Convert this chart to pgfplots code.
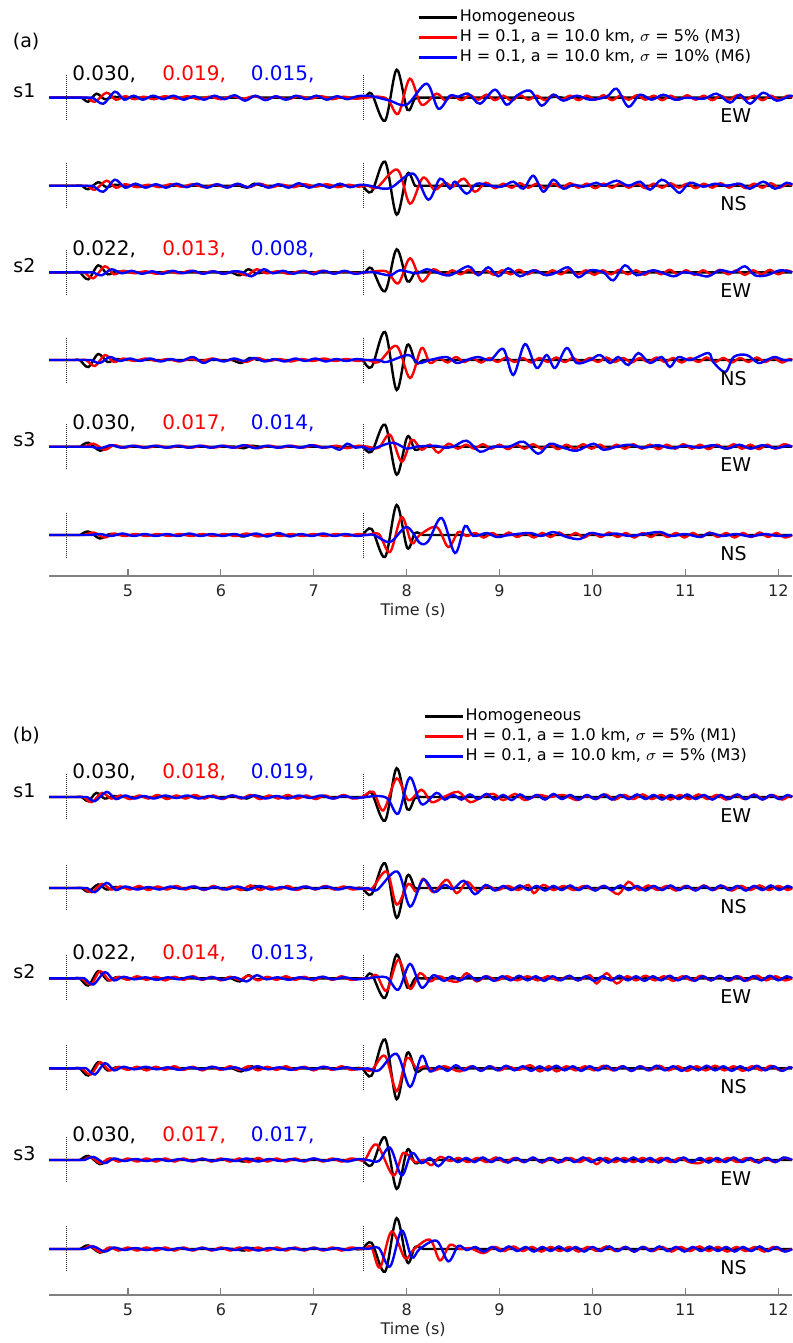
\documentclass[border=0pt]{standalone}
\usepackage{fontspec}
\setmainfont{DejaVu Sans}
\usepackage{pgfplots}
\usepackage{pgfplotstable}
\pgfplotsset{compat=1.18}

% ---- black: homogeneous (same in both panels)
\pgfplotstableread[row sep=\\]{t a\\4.15 0\\4.35 0\\4.44 0\\4.50 0\\4.573 -4\\4.66 4\\4.75 -1.5\\4.84 1\\4.92 0\\4.98 0\\5.07 0\\5.22 0\\5.52 0\\5.80 0\\5.95 0\\6.05 0\\6.14 0\\6.20 0\\6.28 -1.5\\6.36 1.5\\6.44 0\\6.50 0\\6.59 0\\6.74 0\\7.04 0\\7.26 0\\7.40 0\\7.49 0\\7.55 0\\7.623 4\\7.767 -23\\7.892 28\\8.007 -12\\8.09 -1\\8.17 0\\8.24 0\\8.33 0\\8.48 0\\8.78 0\\9.08 0\\9.30 0\\9.44 0\\9.53 0\\9.60 1\\9.68 0\\9.75 0\\9.84 0\\9.99 0\\10.29 0\\10.90 0\\12.15 0\\}\kA
\pgfplotstableread[row sep=\\]{t a\\4.15 0\\4.35 0\\4.44 0\\4.50 0\\4.573 -3.5\\4.68 3.5\\4.77 -1.5\\4.86 1\\4.93 0\\4.99 0\\5.08 0\\5.23 0\\5.53 0\\5.80 0\\5.95 0\\6.05 0\\6.14 0\\6.20 0\\6.28 -2\\6.36 2\\6.44 0\\6.50 0\\6.59 0\\6.74 0\\7.04 0\\7.22 0\\7.37 0\\7.46 0\\7.52 0\\7.623 -6\\7.767 24\\7.892 -29\\8.007 12\\8.09 0\\8.15 0\\8.24 0\\8.39 0\\8.69 0\\9.30 0\\12.15 0\\}\kB
\pgfplotstableread[row sep=\\]{t a\\4.15 0\\4.33 0\\4.42 0\\4.48 0\\4.573 -7\\4.68 7\\4.78 -2\\4.87 1\\4.95 0\\5.01 0\\5.10 0\\5.25 0\\5.55 0\\5.75 0\\5.90 0\\5.99 0\\6.05 0\\6.11 0\\6.205 -3\\6.295 3\\6.38 -1\\6.46 0\\6.52 0\\6.61 0\\6.76 0\\7.06 0\\7.25 0\\7.40 0\\7.49 0\\7.55 0\\7.623 4\\7.767 -19\\7.892 23\\8.007 -9\\8.09 0\\8.15 0\\8.24 0\\8.39 0\\8.69 0\\9.30 0\\12.15 0\\}\kC
\pgfplotstableread[row sep=\\]{t a\\4.15 0\\4.33 0\\4.42 0\\4.48 0\\4.573 -7\\4.68 6\\4.78 -2\\4.87 1\\4.95 0\\5.01 0\\5.10 0\\5.25 0\\5.55 0\\5.75 0\\5.90 0\\5.99 0\\6.06 0\\6.12 0\\6.22 -3\\6.31 2\\6.40 0\\6.46 0\\6.55 0\\6.70 0\\7.00 0\\7.20 0\\7.35 0\\7.44 0\\7.52 0\\7.623 -7\\7.767 28\\7.892 -30\\8.007 15\\8.10 -3\\8.18 0\\8.24 0\\8.33 0\\8.48 0\\8.78 0\\9.40 0\\12.15 0\\}\kD
\pgfplotstableread[row sep=\\]{t a\\4.15 0\\4.33 0\\4.42 0\\4.48 0\\4.573 4\\4.698 -4\\4.80 1\\4.90 0\\4.96 0\\5.05 0\\5.20 0\\5.50 0\\5.75 0\\5.90 0\\5.99 0\\6.05 0\\6.15 0\\6.25 -1.5\\6.33 1\\6.42 0\\6.48 0\\6.57 0\\6.72 0\\7.02 0\\7.20 0\\7.35 0\\7.44 0\\7.52 0\\7.623 -5\\7.767 22\\7.892 -28\\8.007 10\\8.09 -3\\8.18 0\\8.24 0\\8.33 0\\8.48 0\\8.78 0\\9.40 0\\12.15 0\\}\kE
\pgfplotstableread[row sep=\\]{t a\\4.15 0\\4.33 0\\4.42 0\\4.48 0\\4.573 3.5\\4.698 -3.5\\4.80 1\\4.90 0\\4.96 0\\5.05 0\\5.20 0\\5.50 0\\5.75 0\\5.90 0\\5.99 0\\6.05 0\\6.15 0\\6.25 -1.5\\6.33 1\\6.42 0\\6.48 0\\6.57 0\\6.72 0\\7.02 0\\7.20 0\\7.35 0\\7.44 0\\7.52 0\\7.623 6\\7.767 -22\\7.892 30\\8.007 -13\\8.09 2\\8.18 0\\8.24 0\\8.33 0\\8.48 0\\8.78 0\\9.40 0\\12.15 0\\}\kF

% ---- M3 (red in a, blue in b)
\pgfplotstableread[row sep=\\]{t a\\4.15 0\\4.26 0\\4.41 0\\4.50 0\\4.56 0\\4.645 -4\\4.77 5\\4.87 -2\\4.97 1.5\\5.07 -1.5\\5.17 1\\5.28 -1.5\\5.40 1.5\\5.52 -1\\5.64 1.5\\5.76 -1.5\\5.88 1\\6.00 -1.5\\6.12 1.5\\6.24 -1\\6.36 1.5\\6.48 -1.5\\6.60 1\\6.72 -1.5\\6.84 1.5\\6.96 -1\\7.08 1.5\\7.20 -1.5\\7.32 1\\7.44 -1\\7.56 0\\7.70 1\\7.80 -2\\7.910 -16\\8.034 19\\8.161 -7\\8.32 4\\8.41 -2.5\\8.50 2\\8.59 -2.5\\8.68 2.5\\8.77 -2\\8.86 3\\8.95 -2.5\\9.04 2\\9.13 -3\\9.22 2.5\\9.31 -2\\9.40 2\\9.49 -2.5\\9.58 3\\9.67 -2\\9.76 2\\9.85 -2.5\\9.94 2\\10.03 -2\\10.12 2.5\\10.21 -2.5\\10.30 2\\10.39 -2\\10.48 2.5\\10.57 -2\\10.66 2\\10.75 -2.5\\10.84 2\\10.93 -2\\11.02 2.5\\11.11 -2\\11.20 2\\11.29 -2.5\\11.38 2\\11.47 -2\\11.56 2.5\\11.65 -2\\11.74 2\\11.83 -2.5\\11.92 2\\12.01 -2\\12.10 2\\12.15 0\\}\rA
\pgfplotstableread[row sep=\\]{t a\\4.15 0\\4.26 0\\4.41 0\\4.50 0\\4.56 0\\4.645 -4\\4.77 5\\4.87 -2\\4.97 1.5\\5.10 -1.5\\5.22 1\\5.34 -1.5\\5.46 1.5\\5.58 -1\\5.70 1.5\\5.82 -1.5\\5.94 1\\6.06 -1.5\\6.18 1.5\\6.30 -1.5\\6.42 2\\6.54 -1.5\\6.66 1\\6.78 -1.5\\6.90 1.5\\7.02 -1\\7.14 1.5\\7.26 -1.5\\7.38 1\\7.48 -1\\7.58 0\\7.68 -2\\7.900 16\\8.036 -18\\8.175 8\\8.30 -4\\8.41 3\\8.50 -1\\8.615 7\\8.735 -6\\8.85 3\\8.95 -2.5\\9.04 2\\9.13 -2\\9.22 2.5\\9.31 -2\\9.40 2\\9.49 -2.5\\9.58 2\\9.67 -2\\9.76 2.5\\9.85 -2\\9.94 2\\10.03 -2.5\\10.12 2\\10.21 -2\\10.30 2.5\\10.39 -2\\10.48 2\\10.57 -2.5\\10.66 2\\10.75 -2\\10.84 2.5\\10.93 -2\\11.02 2\\11.11 -2.5\\11.20 2\\11.29 -2\\11.38 2.5\\11.47 -2\\11.56 2\\11.65 -2.5\\11.74 2\\11.83 -2\\11.92 2.5\\12.01 -2\\12.10 2\\12.15 0\\}\rB
\pgfplotstableread[row sep=\\]{t a\\4.15 0\\4.23 0\\4.38 0\\4.47 0\\4.53 0\\4.627 -6\\4.752 6\\4.85 -2\\4.95 1.5\\5.07 -1\\5.19 1\\5.31 -1.5\\5.43 1\\5.55 -1\\5.67 1.5\\5.79 -1\\5.91 1\\6.03 -1.5\\6.15 1\\6.277 -3\\6.385 3\\6.49 -1\\6.61 1\\6.73 -1.5\\6.85 1\\6.97 -1\\7.09 1.5\\7.21 -1\\7.33 1\\7.45 -1\\7.58 0\\7.78 1\\7.910 -11\\8.036 14\\8.161 -9\\8.287 3\\8.40 -2.5\\8.49 2\\8.58 -2\\8.67 2.5\\8.76 -2\\8.85 2\\8.94 -2.5\\9.03 2\\9.12 -2\\9.21 2.5\\9.30 -2\\9.39 2\\9.48 -2.5\\9.57 2\\9.66 -2\\9.75 2.5\\9.84 -2\\9.93 2\\10.02 -2.5\\10.11 2\\10.20 -2\\10.29 2.5\\10.38 -2\\10.47 2\\10.56 -2.5\\10.65 2\\10.74 -2\\10.83 2.5\\10.92 -2\\11.01 2\\11.10 -2.5\\11.19 2\\11.28 -2\\11.37 2.5\\11.46 -2\\11.55 2\\11.64 -2.5\\11.73 2\\11.82 -2\\11.91 2.5\\12.00 -2\\12.09 2\\12.15 0\\}\rC
\pgfplotstableread[row sep=\\]{t a\\4.15 0\\4.25 0\\4.40 0\\4.49 0\\4.55 0\\4.645 -6\\4.752 5\\4.85 -2\\4.95 1.5\\5.07 -1\\5.19 1.5\\5.31 -1\\5.43 1\\5.55 -1.5\\5.67 1\\5.79 -1\\5.91 1.5\\6.03 -1\\6.15 1\\6.27 -2\\6.39 2\\6.51 -1\\6.63 1\\6.75 -1.5\\6.87 1\\6.99 -1\\7.11 1.5\\7.23 -1\\7.35 1\\7.47 -1\\7.58 0\\7.70 -2\\7.892 14\\8.036 -18\\8.161 12\\8.251 -3\\8.35 2\\8.44 -2.5\\8.53 3\\8.62 -2\\8.71 2\\8.80 -2.5\\8.89 2\\8.98 -2\\9.07 2.5\\9.16 -2\\9.25 2\\9.34 -2.5\\9.43 2\\9.52 -2\\9.61 2.5\\9.70 -2\\9.79 2\\9.88 -2.5\\9.97 2\\10.06 -2\\10.15 2.5\\10.24 -2\\10.33 2\\10.42 -2.5\\10.51 2\\10.60 -2\\10.69 2.5\\10.78 -2\\10.87 2\\10.96 -2.5\\11.05 2\\11.14 -2\\11.23 2.5\\11.32 -2\\11.41 2\\11.50 -2.5\\11.59 2\\11.68 -2\\11.77 2.5\\11.86 -2\\11.95 2\\12.04 -2.5\\12.12 1\\12.15 0\\}\rD
\pgfplotstableread[row sep=\\]{t a\\4.15 0\\4.23 0\\4.38 0\\4.47 0\\4.53 0\\4.63 3\\4.75 -3\\4.85 1.5\\4.96 -1\\5.08 1\\5.20 -1\\5.32 1\\5.44 -1\\5.56 1\\5.68 -1\\5.80 1\\5.92 -1\\6.04 1\\6.16 -1\\6.28 1.5\\6.40 -1.5\\6.52 1\\6.64 -1\\6.76 1\\6.88 -1\\7.00 1.5\\7.12 -1\\7.24 1\\7.36 -1.5\\7.48 1\\7.58 0\\7.70 -1\\7.821 12\\7.946 -15\\8.054 7\\8.161 -3\\8.25 2\\8.341 -6\\8.448 3\\8.55 -2\\8.64 2\\8.73 -2\\8.82 2.5\\8.91 -2\\9.00 2\\9.09 -2.5\\9.18 2\\9.27 -2\\9.36 2.5\\9.45 -2\\9.54 2\\9.63 -2.5\\9.72 2\\9.81 -2\\9.90 2.5\\9.99 -2\\10.08 2\\10.17 -2.5\\10.26 2\\10.35 -2\\10.44 2.5\\10.53 -2\\10.62 2\\10.71 -2.5\\10.80 2\\10.89 -2\\10.98 2.5\\11.07 -2\\11.16 2\\11.25 -2.5\\11.34 2\\11.43 -2\\11.52 2.5\\11.61 -2\\11.70 2\\11.79 -2.5\\11.88 2\\11.97 -2\\12.06 2.5\\12.15 0\\}\rE
\pgfplotstableread[row sep=\\]{t a\\4.15 0\\4.23 0\\4.38 0\\4.47 0\\4.53 0\\4.63 2.5\\4.75 -2.5\\4.85 1.5\\4.96 -1\\5.08 1\\5.20 -1\\5.32 1\\5.44 -1\\5.56 1\\5.68 -1\\5.80 1\\5.92 -1\\6.04 1\\6.16 -1\\6.28 1.5\\6.40 -1.5\\6.52 1\\6.64 -1\\6.76 1\\6.88 -1\\7.00 1\\7.12 -1\\7.24 1\\7.36 -1\\7.48 1\\7.58 0\\7.70 1\\7.821 -17\\7.946 18\\8.054 -8\\8.14 0\\8.323 8\\8.448 -12\\8.556 3\\8.646 -1\\8.74 2\\8.83 -2.5\\8.92 2\\9.01 -2\\9.10 2.5\\9.19 -2\\9.28 2\\9.37 -2.5\\9.46 2\\9.55 -2\\9.64 2.5\\9.73 -2\\9.82 2\\9.91 -2.5\\10.00 2\\10.09 -2\\10.18 2.5\\10.27 -2\\10.36 2\\10.45 -2.5\\10.54 2\\10.63 -2\\10.72 2.5\\10.81 -2\\10.90 2\\10.99 -2.5\\11.08 2\\11.17 -2\\11.26 2.5\\11.35 -2\\11.44 2\\11.53 -2.5\\11.62 2\\11.71 -2\\11.80 2.5\\11.89 -2\\11.98 2\\12.07 -2.5\\12.15 0\\}\rF

% ---- M6 (blue in a)
\pgfplotstableread[row sep=\\]{t a\\4.15 0\\4.32 0\\4.47 0\\4.56 0\\4.62 0\\4.734 -6\\4.860 6\\4.96 -2\\5.06 2\\5.16 -2\\5.27 2\\5.38 -1.5\\5.49 2\\5.60 -2\\5.71 1.5\\5.82 -2\\5.93 2\\6.04 -1.5\\6.15 2.5\\6.26 -3\\6.37 2\\6.48 -2.5\\6.59 1.5\\6.70 -2\\6.81 2\\6.92 -1.5\\7.03 2\\7.14 -2\\7.25 1.5\\7.36 -1.5\\7.47 1.5\\7.56 2\\7.65 1\\7.82 -3\\8.00 -7\\8.215 14\\8.341 -11\\8.466 2\\8.55 1\\8.664 4\\8.789 -6\\8.951 8\\9.076 -7\\9.184 2\\9.328 7\\9.453 -8\\9.579 3\\9.686 -3\\9.830 2\\9.973 -2\\10.153 1\\10.260 9\\10.386 -9\\10.512 3\\10.637 -2\\10.763 3\\10.888 -2\\11.014 0\\11.20 -1\\11.337 4\\11.480 -5\\11.588 3\\11.696 -6\\11.839 5\\11.983 -3\\12.126 2\\12.15 1\\}\bA
\pgfplotstableread[row sep=\\]{t a\\4.15 0\\4.32 0\\4.47 0\\4.56 0\\4.62 0\\4.734 -6\\4.860 6\\4.97 -2\\5.08 2\\5.19 -2\\5.30 1.5\\5.41 -2\\5.52 2\\5.63 -1.5\\5.74 2\\5.85 -2\\5.96 1.5\\6.07 -2\\6.18 2\\6.29 -1.5\\6.40 2\\6.51 -2\\6.62 1.5\\6.73 -2\\6.84 2.5\\6.95 -2\\7.06 1.5\\7.17 -2\\7.28 2\\7.39 -1.5\\7.50 1\\7.60 0\\7.749 -3\\7.85 -1\\8.072 12\\8.233 -14\\8.359 7\\8.466 -3\\8.520 4\\8.646 -8\\8.753 2\\8.90 0\\9.023 -1\\9.148 4\\9.256 -3\\9.363 10\\9.471 -6\\9.579 6\\9.686 -3\\9.794 1\\9.902 -1\\10.045 3\\10.117 0\\10.260 5\\10.386 0\\10.512 4\\10.619 -4\\10.745 6\\10.870 -2\\10.942 -7\\11.050 3\\11.193 -1\\11.319 2\\11.444 0\\11.588 2\\11.696 -3\\11.839 4\\11.965 -3\\12.090 3\\12.15 1\\}\bB
\pgfplotstableread[row sep=\\]{t a\\4.15 0\\4.32 0\\4.47 0\\4.56 0\\4.62 0\\4.716 -3\\4.824 3\\4.93 -1\\5.04 1.5\\5.15 -1.5\\5.26 1\\5.37 -1.5\\5.48 1.5\\5.59 -1\\5.70 1.5\\5.81 -1.5\\5.92 1\\6.03 -1.5\\6.14 1\\6.24 0\\6.33 -4\\6.46 3\\6.56 -1\\6.67 1.5\\6.78 -1.5\\6.89 1.5\\7.00 -2\\7.11 1.5\\7.22 -1.5\\7.33 1.5\\7.44 -1.5\\7.55 0\\7.65 0\\7.821 -3\\7.928 2\\8.10 -1\\8.215 3\\8.32 0\\8.466 -3\\8.664 6\\8.771 -3\\8.879 5\\8.987 -4\\9.094 4\\9.220 -4\\9.363 2\\9.507 -3\\9.615 0\\9.740 5\\9.848 -5\\9.973 2\\10.117 0\\10.224 -8\\10.350 7\\10.476 -3\\10.655 2\\10.870 -4\\10.978 0\\11.122 -2\\11.247 -4\\11.373 2\\11.516 0\\11.642 6\\11.749 -3\\11.875 -3\\12.019 2\\12.15 0\\}\bC
\pgfplotstableread[row sep=\\]{t a\\4.15 0\\4.30 0\\4.45 0\\4.54 0\\4.60 0\\4.698 -3\\4.806 3\\4.91 -1\\5.02 1.5\\5.13 -1\\5.24 1.5\\5.35 -1.5\\5.46 1\\5.57 -1\\5.70 3\\5.81 -3\\5.92 1\\6.03 -1.5\\6.14 1.5\\6.25 -1\\6.36 2\\6.47 -1.5\\6.58 1\\6.69 -1.5\\6.80 1.5\\6.91 -1\\7.02 1.5\\7.13 -1.5\\7.24 1\\7.35 -1\\7.46 1\\7.56 0\\7.70 0\\7.785 -2\\8.018 5\\8.125 -3\\8.251 0\\8.431 3\\8.538 -3\\8.646 0\\8.771 3\\8.90 0\\9.040 11\\9.148 -15\\9.274 16\\9.399 -8\\9.507 5\\9.597 -8\\9.722 12\\9.830 -3\\9.973 0\\10.081 5\\10.189 -3\\10.278 3\\10.386 -5\\10.494 7\\10.619 -3\\10.745 3\\10.834 -7\\10.924 3\\11.050 0\\11.247 7\\11.30 -2\\11.43 -12\\11.52 3\\11.660 5\\11.785 -3\\11.875 0\\11.965 3\\12.054 0\\12.15 0\\}\bD
\pgfplotstableread[row sep=\\]{t a\\4.15 0\\4.30 0\\4.45 0\\4.54 0\\4.60 0\\4.70 -1.5\\4.82 1.5\\4.93 -1\\5.05 1\\5.17 -1\\5.29 1\\5.41 -1\\5.53 1\\5.65 -1\\5.77 1\\5.89 -1\\6.01 1\\6.13 -1\\6.25 1.5\\6.37 -1.5\\6.49 1\\6.61 -1\\6.73 1\\6.85 -1\\6.97 1.5\\7.09 -1\\7.19 0\\7.28 -3\\7.36 3\\7.45 -1\\7.53 0\\7.605 -3\\7.70 0\\7.856 4\\8.000 -2\\8.10 0\\8.30 1\\8.40 -1\\8.50 0\\8.646 6\\8.789 -5\\8.933 0\\9.10 0\\9.256 5\\9.417 -7\\9.543 3\\9.686 -1\\9.830 -4\\10.009 3\\10.117 -3\\10.260 0\\10.40 2\\10.55 -1\\10.70 1.5\\10.85 -1.5\\11.00 1\\11.15 -1\\11.30 1.5\\11.45 -2\\11.58 2\\11.70 -2\\11.83 1.5\\11.97 -1.5\\12.10 1\\12.15 0\\}\bE
\pgfplotstableread[row sep=\\]{t a\\4.15 0\\4.30 0\\4.45 0\\4.54 0\\4.60 0\\4.70 1\\4.82 -1\\4.94 1.5\\5.06 -1\\5.18 1\\5.30 -1\\5.42 1\\5.54 -1\\5.66 1.5\\5.78 -1\\5.90 1\\6.02 -1\\6.14 1\\6.26 -1\\6.38 1.5\\6.50 -1.5\\6.62 2\\6.74 -1.5\\6.86 1\\6.98 -1\\7.10 1.5\\7.22 -1\\7.34 1\\7.46 -1\\7.56 0\\7.65 0\\7.821 -7\\8.000 8\\8.143 -8\\8.233 -6\\8.377 17\\8.520 -18\\8.628 9\\8.718 -1\\8.861 2\\8.969 -2\\9.10 0\\9.328 2\\9.45 -1\\9.579 3\\9.722 -2\\9.866 -4\\9.973 2\\10.12 0\\10.25 1.5\\10.40 -1\\10.55 1\\10.727 3\\10.85 -1\\11.00 1\\11.157 -2\\11.265 2\\11.40 -1\\11.55 1\\11.70 -1.5\\11.85 1\\12.00 -1\\12.15 0\\}\bF

% ---- M1 (red in b)
\pgfplotstableread[row sep=\\]{t a\\4.15 0\\4.22 0\\4.37 0\\4.46 0\\4.52 0\\4.61 -5\\4.72 4\\4.82 -1.5\\4.92 1.5\\5.02 -2\\5.12 1.5\\5.22 -1.5\\5.32 2\\5.42 -2\\5.52 1.5\\5.62 -1.5\\5.72 2\\5.82 -1.5\\5.92 1.5\\6.02 -2\\6.12 1.5\\6.22 -1.5\\6.32 2\\6.42 -2\\6.52 1.5\\6.62 -1.5\\6.72 2\\6.82 -1.5\\6.92 1.5\\7.02 -2\\7.12 1.5\\7.22 -1.5\\7.32 2\\7.42 -1.5\\7.52 0\\7.641 5\\7.749 -13\\7.892 18\\8.018 -3\\8.161 7\\8.269 -5\\8.40 0\\8.556 5\\8.682 -5\\8.807 0\\8.933 3\\9.040 -3\\9.166 3\\9.274 -3\\9.417 2\\9.543 0\\9.686 2\\9.830 -3\\9.937 1\\10.04 -2\\10.14 2.5\\10.24 -2.5\\10.34 2\\10.44 -2\\10.54 2.5\\10.64 -2\\10.74 2\\10.84 -2.5\\10.94 2\\11.04 -2\\11.14 2.5\\11.24 -2\\11.34 2\\11.44 -2.5\\11.54 2\\11.64 -2\\11.74 2.5\\11.84 -2\\11.94 2\\12.04 -2.5\\12.12 1\\12.15 0\\}\mA
\pgfplotstableread[row sep=\\]{t a\\4.15 0\\4.22 0\\4.37 0\\4.46 0\\4.52 0\\4.61 -4\\4.72 4\\4.82 -1.5\\4.92 1.5\\5.02 -1.5\\5.12 2\\5.22 -2\\5.32 1.5\\5.42 -1.5\\5.52 2\\5.62 -1.5\\5.72 1.5\\5.82 -2\\5.92 2\\6.02 -1.5\\6.12 1.5\\6.22 -2\\6.32 2.5\\6.42 -2\\6.52 1.5\\6.62 -1.5\\6.72 2\\6.82 -2\\6.92 1.5\\7.02 -1.5\\7.12 2\\7.22 -1.5\\7.32 1.5\\7.42 -1.5\\7.52 0\\7.62 -1\\7.785 16\\7.892 -16\\8.018 4\\8.108 -4\\8.179 9\\8.287 -4\\8.43 8\\8.54 -5\\8.65 6\\8.76 -3\\8.87 2\\8.98 -2\\9.09 2\\9.20 -2\\9.31 3\\9.37 -5\\9.47 3\\9.58 -2\\9.69 2\\9.80 -2\\9.91 2\\10.02 -2\\10.13 2\\10.278 -6\\10.386 6\\10.50 -2\\10.60 2.5\\10.70 -2\\10.80 2\\10.90 -2.5\\11.00 2\\11.10 -2\\11.20 2.5\\11.30 -2\\11.40 2\\11.50 -2.5\\11.60 2\\11.70 -2\\11.80 2.5\\11.90 -2\\12.00 2\\12.10 -2\\12.15 0\\}\mB
\pgfplotstableread[row sep=\\]{t a\\4.15 0\\4.20 0\\4.35 0\\4.44 0\\4.50 0\\4.60 -6\\4.70 7\\4.80 -2\\4.90 1.5\\5.00 -1.5\\5.10 2\\5.20 -1.5\\5.30 1.5\\5.40 -2\\5.50 1.5\\5.60 -1.5\\5.70 2\\5.80 -1.5\\5.90 1.5\\6.00 -2\\6.10 1.5\\6.20 -1.5\\6.30 2.5\\6.40 -2\\6.50 1.5\\6.60 -1.5\\6.70 2\\6.80 -1.5\\6.90 1.5\\7.00 -2\\7.10 1.5\\7.20 -1.5\\7.30 2\\7.40 -1.5\\7.52 0\\7.60 0\\7.677 3\\7.785 -12\\7.910 18\\8.036 -10\\8.143 5\\8.251 -3\\8.35 2\\8.45 -2\\8.556 -3\\8.646 5\\8.753 -3\\8.86 2\\8.97 -2\\9.08 2\\9.19 -2\\9.30 2\\9.41 -2\\9.52 2\\9.63 -2\\9.74 2\\9.85 -2\\9.973 3\\10.045 -5\\10.153 5\\10.260 -5\\10.37 2\\10.47 -2\\10.57 2.5\\10.67 -2\\10.77 2\\10.87 -2.5\\10.97 2\\11.07 -2\\11.17 2.5\\11.27 -2\\11.37 2\\11.47 -2.5\\11.57 2\\11.67 -2\\11.77 2.5\\11.87 -2\\11.97 2\\12.07 -2\\12.15 0\\}\mC
\pgfplotstableread[row sep=\\]{t a\\4.15 0\\4.20 0\\4.35 0\\4.44 0\\4.50 0\\4.60 -6\\4.70 6\\4.80 -2\\4.90 1.5\\5.00 -1.5\\5.10 1.5\\5.20 -2\\5.30 1.5\\5.40 -1.5\\5.50 2\\5.60 -1.5\\5.70 1.5\\5.80 -2\\5.90 1.5\\6.00 -1.5\\6.10 2\\6.20 -1.5\\6.30 2\\6.40 -2\\6.50 1.5\\6.60 -1.5\\6.70 2\\6.80 -1.5\\6.90 1.5\\7.00 -2\\7.10 1.5\\7.20 -1.5\\7.30 2\\7.40 -1.5\\7.52 0\\7.62 -2\\7.767 12\\7.892 -22\\8.000 10\\8.108 0\\8.197 2\\8.30 -2\\8.40 2\\8.50 -1\\8.574 -3\\8.70 2\\8.80 -2\\8.90 2\\9.00 -2\\9.10 1.5\\9.21 -1.5\\9.328 3\\9.435 -3\\9.53 2\\9.615 -3\\9.72 2\\9.82 -2\\9.92 2\\10.02 -2\\10.12 2.5\\10.22 -2\\10.32 2\\10.42 -2.5\\10.52 2\\10.62 -2\\10.72 2.5\\10.82 -2\\10.92 2\\11.02 -2.5\\11.12 2\\11.22 -2\\11.32 2.5\\11.42 -2\\11.52 2\\11.62 -2.5\\11.72 2\\11.82 -2\\11.92 2.5\\12.02 -2\\12.12 1\\12.15 0\\}\mD
\pgfplotstableread[row sep=\\]{t a\\4.15 0\\4.22 0\\4.37 0\\4.46 0\\4.52 0\\4.60 3\\4.70 -3\\4.80 1.5\\4.90 -1.5\\5.00 1.5\\5.10 -1.5\\5.20 1.5\\5.30 -1.5\\5.40 1.5\\5.50 -1.5\\5.60 1.5\\5.70 -1.5\\5.80 1.5\\5.90 -1.5\\6.00 1.5\\6.10 -1.5\\6.20 1.5\\6.30 -2\\6.40 2\\6.50 -1.5\\6.60 1.5\\6.70 -1.5\\6.80 1.5\\6.90 -1.5\\7.00 1.5\\7.10 -1.5\\7.20 1.5\\7.30 -1.5\\7.40 1.5\\7.50 0\\7.55 0\\7.677 15\\7.856 -15\\7.964 7\\8.09 -2\\8.179 0\\8.269 -5\\8.359 3\\8.466 -1\\8.56 2\\8.66 -2\\8.76 2\\8.86 -2\\8.96 2.5\\9.06 -2\\9.16 2\\9.26 -2\\9.36 2\\9.46 -2.5\\9.56 2\\9.66 -2\\9.76 2\\9.86 -2\\9.96 2\\10.045 -4\\10.14 2\\10.24 -2\\10.34 2\\10.44 -2\\10.54 2\\10.64 -2\\10.74 2\\10.84 -2\\10.94 2\\11.04 -2\\11.157 -3\\11.26 2\\11.36 -2\\11.46 2\\11.56 -2\\11.66 2\\11.76 -2\\11.86 2\\11.96 -2\\12.06 2\\12.15 0\\}\mE
\pgfplotstableread[row sep=\\]{t a\\4.15 0\\4.22 0\\4.37 0\\4.46 0\\4.52 0\\4.60 3\\4.70 -3\\4.80 1.5\\4.90 -1.5\\5.00 1.5\\5.10 -1.5\\5.20 1.5\\5.30 -1.5\\5.40 1.5\\5.50 -1.5\\5.60 1.5\\5.70 -1.5\\5.80 1.5\\5.90 -1.5\\6.00 1.5\\6.10 -1.5\\6.20 1.5\\6.30 -1.5\\6.40 1.5\\6.50 -1.5\\6.60 1.5\\6.70 -1.5\\6.80 1.5\\6.90 -1.5\\7.00 1.5\\7.10 -1.5\\7.20 1.5\\7.30 -1.5\\7.40 1.5\\7.50 0\\7.55 0\\7.62 2\\7.713 -18\\7.838 17\\7.982 -9\\8.08 0\\8.251 9\\8.359 -11\\8.466 4\\8.574 0\\8.682 1\\8.825 -4\\8.95 2\\9.05 -2\\9.15 2.5\\9.25 -2\\9.35 2\\9.45 -2.5\\9.55 2\\9.65 -2\\9.75 2\\9.85 -2.5\\9.95 2\\10.05 -2\\10.15 2.5\\10.25 -2\\10.35 2\\10.45 -2.5\\10.55 2\\10.65 -2\\10.75 2\\10.85 -2.5\\10.95 2\\11.05 -2\\11.15 2.5\\11.25 -2\\11.35 2\\11.45 -2.5\\11.55 2\\11.65 -2\\11.75 2\\11.85 -2.5\\11.95 2\\12.05 -2\\12.15 0\\}\mF

\pgfplotsset{
  seis/.style={
    width=371.6pt, scale only axis,
    xmin=4.15, xmax=12.15,
    axis x line=bottom, axis y line=none,
    axis line style={-, black!50, line width=0.6pt},
    xtick={5,6,...,12}, tick align=inside, major tick length=3.5pt,
    tick style={black!50, line width=0.6pt},
    /pgf/number format/assume math mode=true,
    xticklabel style={font=\fontsize{8}{8}\selectfont, text=black!85, yshift=-1pt},
    xlabel={Time (s)},
    xlabel style={font=\fontsize{8}{8}\selectfont, text=black!85, at={(rel axis cs:0.49,0)}, anchor=center, yshift=-17pt},
    clip=false,
    legend cell align=left,
    legend image code/.code={\draw[#1] (0pt,0pt) -- (19pt,0pt);},
    legend style={draw=none, fill=none, anchor=north west, inner sep=0pt, row sep=0pt,
      font=\fontsize{8}{9}\selectfont,
      nodes={inner sep=1pt, text height=6.2pt, text depth=1.8pt}},
  },
  tr/.style={smooth, tension=0.55, line width=1.2pt},
  dl/.style={black!85, line width=0.5pt, dash pattern=on 0.5pt off 0.5pt},
}
% black, red, blue traces of one component
\newcommand{\trio}[5]{%
  \addplot[tr, black] table[x=t, y expr=#5*\thisrow{a}-#4]{#1};
  \addplot[tr, red] table[x=t, y expr=#5*\thisrow{a}-#4]{#2};
  \addplot[tr, blue] table[x=t, y expr=#5*\thisrow{a}-#4]{#3};
}

\begin{document}
\begin{tikzpicture}
\useasboundingbox (0pt,0pt) rectangle (396pt,-671.5pt);

\begin{axis}[seis, height=288pt, ymin=-576, ymax=0,
  at={(24.5pt,-288pt)}, anchor=south west,
  legend style={at={(axis cs:8.111,-7)}}]
\trio{\kA}{\rA}{\bA}{97.7}{1}
\legend{Homogeneous, {H = 0.1, a = 10.0 km, $\sigma$ = 5\% (M3)}, {H = 0.1, a = 10.0 km, $\sigma$ = 10\% (M6)}}
\trio{\kB}{\rB}{\bB}{185.7}{1}
\trio{\kC}{\rC}{\bC}{272.3}{1}
\trio{\kD}{\rD}{\bD}{360}{1}
\trio{\kE}{\rE}{\bE}{446.7}{1}
\trio{\kF}{\rF}{\bF}{535}{1}
\addplot[dl] coordinates {(4.343,-75.2) (4.343,-120.2)};
\addplot[dl] coordinates {(7.535,-75.2) (7.535,-120.2)};
\addplot[dl] coordinates {(4.343,-163.2) (4.343,-208.2)};
\addplot[dl] coordinates {(7.535,-163.2) (7.535,-208.2)};
\addplot[dl] coordinates {(4.343,-249.8) (4.343,-294.8)};
\addplot[dl] coordinates {(7.535,-249.8) (7.535,-294.8)};
\addplot[dl] coordinates {(4.343,-337.5) (4.343,-382.5)};
\addplot[dl] coordinates {(7.535,-337.5) (7.535,-382.5)};
\addplot[dl] coordinates {(4.343,-424.2) (4.343,-469.2)};
\addplot[dl] coordinates {(7.535,-424.2) (7.535,-469.2)};
\addplot[dl] coordinates {(4.343,-512.5) (4.343,-557.5)};
\addplot[dl] coordinates {(7.535,-512.5) (7.535,-557.5)};
\end{axis}

\begin{axis}[seis, height=307.5pt, ymin=-1295, ymax=-680,
  at={(24.5pt,-647.5pt)}, anchor=south west,
  legend style={at={(axis cs:8.175,-706)}}]
\trio{\kA}{\mA}{\rA}{797}{1.03}
\legend{Homogeneous, {H = 0.1, a = 1.0 km, $\sigma$ = 5\% (M1)}, {H = 0.1, a = 10.0 km, $\sigma$ = 5\% (M3)}}
\trio{\kB}{\mB}{\rB}{888}{1.03}
\trio{\kC}{\mC}{\rC}{978.3}{1.03}
\trio{\kD}{\mD}{\rD}{1068.3}{1.03}
\trio{\kE}{\mE}{\rE}{1160}{1.03}
\trio{\kF}{\mF}{\rF}{1249}{1.03}
\addplot[dl] coordinates {(4.343,-774) (4.343,-820)};
\addplot[dl] coordinates {(7.535,-774) (7.535,-820)};
\addplot[dl] coordinates {(4.343,-865) (4.343,-911)};
\addplot[dl] coordinates {(7.535,-865) (7.535,-911)};
\addplot[dl] coordinates {(4.343,-955.3) (4.343,-1001.3)};
\addplot[dl] coordinates {(7.535,-955.3) (7.535,-1001.3)};
\addplot[dl] coordinates {(4.343,-1045.3) (4.343,-1091.3)};
\addplot[dl] coordinates {(7.535,-1045.3) (7.535,-1091.3)};
\addplot[dl] coordinates {(4.343,-1137) (4.343,-1183)};
\addplot[dl] coordinates {(7.535,-1137) (7.535,-1183)};
\addplot[dl] coordinates {(4.343,-1226) (4.343,-1272)};
\addplot[dl] coordinates {(7.535,-1226) (7.535,-1272)};
\end{axis}

\begin{scope}[x=0.5pt, y=-0.5pt, every node/.style={inner sep=0pt, anchor=base west, font=\fontsize{9.5}{11}\selectfont}]
% panel a
\node at (12.5,47.5) {(a)};
\node at (13,97.7) {s1};
\node at (13,272.3) {s2};
\node at (13,446.7) {s3};
\node[font=\fontsize{10}{12}\selectfont] at (72,80.7) {0.030,};
\node[font=\fontsize{10}{12}\selectfont, text=red] at (162,80.7) {0.019,};
\node[font=\fontsize{10}{12}\selectfont, text=blue] at (250.5,80.7) {0.015,};
\node[font=\fontsize{10}{12}\selectfont] at (72,255.3) {0.022,};
\node[font=\fontsize{10}{12}\selectfont, text=red] at (162,255.3) {0.013,};
\node[font=\fontsize{10}{12}\selectfont, text=blue] at (250.5,255.3) {0.008,};
\node[font=\fontsize{10}{12}\selectfont] at (72,429.7) {0.030,};
\node[font=\fontsize{10}{12}\selectfont, text=red] at (162,429.7) {0.017,};
\node[font=\fontsize{10}{12}\selectfont, text=blue] at (250.5,429.7) {0.014,};
\node at (720,122.5) {EW};
\node at (720,210.7) {NS};
\node at (720,297.3) {EW};
\node at (720,385) {NS};
\node at (720,471.7) {EW};
\node at (720,560) {NS};
% panel b
\node at (12.5,741) {(b)};
\node at (13,797) {s1};
\node at (13,978.3) {s2};
\node at (13,1160) {s3};
\node[font=\fontsize{10}{12}\selectfont] at (72,778.5) {0.030,};
\node[font=\fontsize{10}{12}\selectfont, text=red] at (162,778.5) {0.018,};
\node[font=\fontsize{10}{12}\selectfont, text=blue] at (250.5,778.5) {0.019,};
\node[font=\fontsize{10}{12}\selectfont] at (72,959.8) {0.022,};
\node[font=\fontsize{10}{12}\selectfont, text=red] at (162,959.8) {0.014,};
\node[font=\fontsize{10}{12}\selectfont, text=blue] at (250.5,959.8) {0.013,};
\node[font=\fontsize{10}{12}\selectfont] at (72,1141.5) {0.030,};
\node[font=\fontsize{10}{12}\selectfont, text=red] at (162,1141.5) {0.017,};
\node[font=\fontsize{10}{12}\selectfont, text=blue] at (250.5,1141.5) {0.017,};
\node at (720,822) {EW};
\node at (720,913) {NS};
\node at (720,1003.3) {EW};
\node at (720,1093.3) {NS};
\node at (720,1185) {EW};
\node at (720,1274) {NS};
\end{scope}
\end{tikzpicture}
\end{document}
